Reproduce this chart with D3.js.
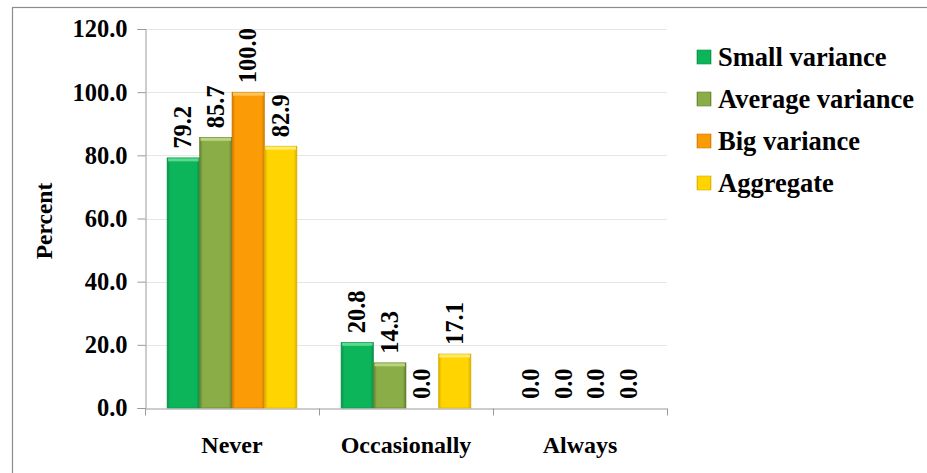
<!DOCTYPE html>
<html>
<head>
<meta charset="utf-8">
<script src="https://cdn.jsdelivr.net/npm/d3@7"></script>
<style>
  html, body { margin: 0; padding: 0; background: #fff; }
  svg { display: block; }
</style>
</head>
<body>
<svg id="chart" width="927" height="473"></svg>
<script>
// Frequency categories and series
const categories = ["Never", "Occasionally", "Always"];
const seriesNames = ["Small variance", "Average variance", "Big variance", "Aggregate"];
const smallVariance = [79.2, 20.8, 0.0];
const averageVariance = [85.7, 14.3, 0.0];
const bigVariance = [100.0, 0.0, 0.0];
const aggregate = [82.9, 17.1, 0.0];
const yTicks = [0, 20, 40, 60, 80, 100, 120];

const seriesValues = [smallVariance, averageVariance, bigVariance, aggregate];
const colors = ["#0db55a", "#8aad48", "#fb9b06", "#ffd400"];
const darkEdge = ["#07904a", "#62802c", "#d07a00", "#d8ae00"];
const lightTop = ["#5ad98f", "#b8d47e", "#ffc660", "#ffea70"];
const FONT = '"Liberation Serif"';

const svg = d3.select("#chart");

// outer frame
svg.append("rect")
  .attr("x", 12.5).attr("y", 7.5)
  .attr("width", 1000).attr("height", 1000)
  .attr("fill", "none").attr("stroke", "#8c8c8c").attr("stroke-width", 1.2);

const x0 = d3.scaleBand().domain(categories).range([145, 667]).padding(0);
const x1 = d3.scaleBand().domain(seriesNames).range([0, x0.bandwidth()])
  .paddingInner(0).paddingOuter(0.68);
const y = d3.scaleLinear().domain([0, 120]).range([408, 29]);

// bevelled bar fills
const defs = svg.append("defs");
seriesNames.forEach((s, i) => {
  const g = defs.append("linearGradient").attr("id", "grad" + i)
    .attr("x1", "0").attr("x2", "1").attr("y1", "0").attr("y2", "0");
  g.append("stop").attr("offset", "0%").attr("stop-color", darkEdge[i]);
  g.append("stop").attr("offset", "10%").attr("stop-color", colors[i]);
  g.append("stop").attr("offset", "90%").attr("stop-color", colors[i]);
  g.append("stop").attr("offset", "100%").attr("stop-color", darkEdge[i]);
});

// gridlines
svg.append("g").selectAll("line").data(yTicks.filter(d => d > 0)).join("line")
  .attr("x1", 145).attr("x2", 667)
  .attr("y1", d => Math.round(y(d)) + 0.5).attr("y2", d => Math.round(y(d)) + 0.5)
  .attr("stroke", "#e6e6e6").attr("stroke-width", 1);

function styleText(sel, size) {
  sel.style("font-family", FONT).style("font-weight", "bold")
    .style("font-size", size + "px").attr("fill", "#000");
}

// y axis
const yAxis = d3.axisLeft(y).tickValues(yTicks).tickFormat(d3.format(".1f")).tickSize(8).tickPadding(10);
const gy = svg.append("g").attr("transform", "translate(145.5,0)").call(yAxis);
gy.attr("font-family", null).attr("font-size", null);
gy.select(".domain").attr("stroke", "#9a9a9a");
gy.selectAll(".tick line").attr("stroke", "#9a9a9a");
styleText(gy.selectAll(".tick text"), 24.5);

// x axis
const xAxis = d3.axisBottom(x0).tickSize(0).tickPadding(27);
const gx = svg.append("g").attr("transform", "translate(0,408.5)").call(xAxis);
gx.attr("font-family", null).attr("font-size", null);
gx.select(".domain").attr("stroke", "#9a9a9a");
styleText(gx.selectAll(".tick text"), 24);
// category boundary ticks
const bounds = categories.map(c => x0(c)).concat([x0.range()[1]]);
gx.append("g").selectAll("line").data(bounds).join("line")
  .attr("x1", d => d + 0.5).attr("x2", d => d + 0.5).attr("y1", 0).attr("y2", 7)
  .attr("stroke", "#9a9a9a");

// y axis title
styleText(svg.append("text")
  .attr("transform", "translate(52,221) rotate(-90)")
  .attr("text-anchor", "middle")
  .text("Percent"), 23.5);

// bars with rotated value labels
const groups = svg.append("g").selectAll("g").data(categories).join("g")
  .attr("transform", d => `translate(${x0(d)},0)`);

groups.each(function(cat, ci) {
  const g = d3.select(this);
  seriesNames.forEach((s, si) => {
    const v = seriesValues[si][ci];
    const bx = x1(s), bw = x1.bandwidth();
    if (v > 0) {
      g.append("rect")
        .attr("x", bx).attr("y", y(v)).attr("width", bw).attr("height", y(0) - y(v))
        .attr("fill", `url(#grad${si})`)
        .attr("stroke", darkEdge[si]).attr("stroke-width", 0.6);
      g.append("rect")
        .attr("x", bx + 1).attr("y", y(v) + 0.5).attr("width", bw - 2).attr("height", 3)
        .attr("fill", lightTop[si]);
    }
    styleText(g.append("text")
      .attr("transform", `translate(${bx + bw / 2 + 8},${y(v) - 9}) rotate(-90)`)
      .attr("text-anchor", "start")
      .text(d3.format(".1f")(v)), 24.5);
  });
});

// legend
const legend = svg.append("g").attr("transform", "translate(697,57)");
seriesNames.forEach((s, i) => {
  const row = legend.append("g").attr("transform", `translate(0,${i * 42})`);
  row.append("rect").attr("x", 0).attr("y", -7).attr("width", 14).attr("height", 14)
    .attr("fill", `url(#grad${i})`).attr("stroke", darkEdge[i]).attr("stroke-width", 0.6);
  styleText(row.append("text").attr("x", 21).attr("y", 8.5).text(s), 26.5);
});
</script>
</body>
</html>
